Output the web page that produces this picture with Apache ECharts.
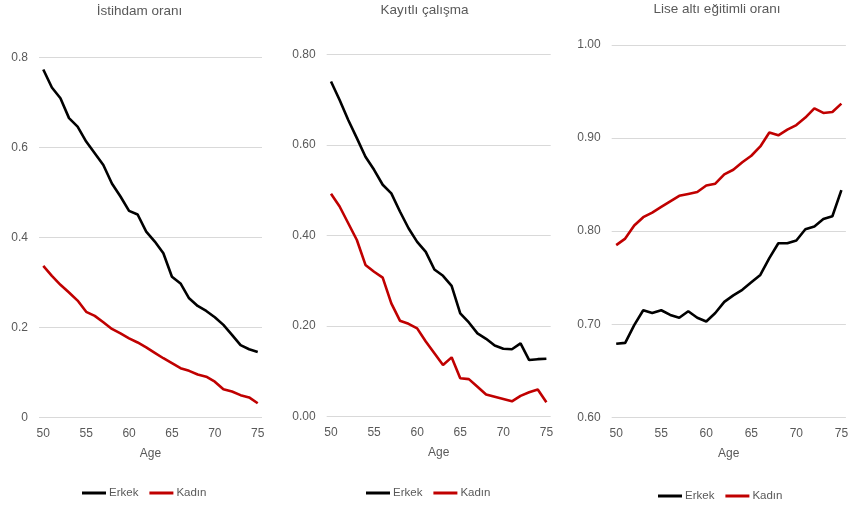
<!DOCTYPE html>
<html>
<head>
<meta charset="utf-8">
<script src="https://cdn.jsdelivr.net/npm/echarts@6/dist/echarts.min.js"></script>
<style>
html,body{margin:0;padding:0;background:#fff;}
#c{width:851px;height:508px;}
</style>
</head>
<body>
<div id="c"></div>
<script>
const ages = [50,51,52,53,54,55,56,57,58,59,60,61,62,63,64,65,66,67,68,69,70,71,72,73,74,75];
const titles = ['İstihdam oranı', 'Kayıtlı çalışma', 'Lise altı eğitimli oranı'];
const seriesNames = ['Erkek', 'Kadın'];
const xAxisName = 'Age';

const empMen = [0.773,0.733,0.709,0.665,0.646,0.613,0.587,0.561,0.520,0.491,0.459,0.451,0.413,0.391,0.365,0.313,0.298,0.265,0.248,0.237,0.223,0.206,0.184,0.161,0.152,0.146];
const empWomen = [0.337,0.315,0.295,0.278,0.260,0.235,0.226,0.212,0.197,0.187,0.176,0.167,0.156,0.144,0.132,0.121,0.110,0.104,0.096,0.091,0.080,0.063,0.058,0.050,0.045,0.032];

const regMen = [0.740,0.699,0.655,0.615,0.574,0.545,0.512,0.493,0.453,0.416,0.386,0.364,0.325,0.311,0.289,0.228,0.208,0.184,0.172,0.157,0.150,0.149,0.162,0.125,0.127,0.128];
const regWomen = [0.492,0.464,0.427,0.390,0.335,0.320,0.307,0.250,0.212,0.205,0.195,0.166,0.140,0.114,0.131,0.085,0.083,0.066,0.049,0.044,0.039,0.034,0.046,0.054,0.060,0.032];

const eduMen = [0.679,0.680,0.699,0.715,0.712,0.715,0.710,0.707,0.714,0.707,0.703,0.712,0.724,0.731,0.737,0.745,0.753,0.771,0.787,0.787,0.790,0.802,0.805,0.813,0.816,0.844];
const eduWomen = [0.785,0.792,0.806,0.815,0.820,0.826,0.832,0.838,0.840,0.842,0.849,0.851,0.861,0.866,0.874,0.881,0.891,0.906,0.903,0.909,0.914,0.922,0.932,0.927,0.928,0.937];

const yTicks = [
  {min:0, max:0.8, interval:0.2, fmt: v => (v===0?'0':v.toFixed(1))},
  {min:0, max:0.8, interval:0.2, fmt: v => v.toFixed(2)},
  {min:0.6, max:1.0, interval:0.1, fmt: v => v.toFixed(2)}
];

const FONT = "'Liberation Sans', sans-serif";
const GREY = '#595959';
const grids = [
  {left:39, top:57.3, width:223, height:360.4},
  {left:326.7, top:54.3, width:224, height:362.4},
  {left:611.7, top:45, width:237.3, height:372.3}
];
const titleCenters = [139.5, 424.5, 717];
const titleTops = [4, 3, 2];
const legendLefts = [82, 366, 658];
const legendTops = [487, 487, 490];
const dataSets = [[empMen, empWomen],[regMen, regWomen],[eduMen, eduWomen]];
const colors = ['#000000', '#c00000'];

const option = {
  animation:false,
  backgroundColor:'#ffffff',
  textStyle:{fontFamily:FONT},
  title: titles.map((t,i)=>({
    text:t, left:titleCenters[i], top:titleTops[i], textAlign:'center', padding:0,
    textStyle:{fontFamily:FONT, fontSize:13.5, fontWeight:'normal', color:GREY}
  })),
  grid: grids,
  legend: [0,1,2].map(i=>({
    data: seriesNames.map((n,k)=>({name: n + (i>0? '\u200B'.repeat(i):'')})),
    left: legendLefts[i], top: legendTops[i], padding:0,
    icon:'rect', itemWidth:24, itemHeight:3, itemGap:11,
    textStyle:{fontFamily:FONT, fontSize:11.5, color:GREY, padding:[0,0,0,-2]},
    formatter: n => n.replace(/\u200B/g,'')
  })),
  xAxis: [0,1,2].map(i=>({
    type:'category', gridIndex:i, data:ages, boundaryGap:true,
    name:xAxisName, nameLocation:'middle', nameGap:30,
    nameTextStyle:{fontFamily:FONT, fontSize:12, color:GREY},
    axisLine:{show:false}, axisTick:{show:false},
    axisLabel:{interval:4, margin:10, fontFamily:FONT, fontSize:12, color:GREY},
    splitLine:{show:false}
  })),
  yAxis: [0,1,2].map(i=>({
    type:'value', gridIndex:i, min:yTicks[i].min, max:yTicks[i].max, interval:yTicks[i].interval,
    axisLine:{show:false}, axisTick:{show:false},
    axisLabel:{margin:11, fontFamily:FONT, fontSize:12, color:GREY, formatter:yTicks[i].fmt},
    splitLine:{show:true, lineStyle:{color:'#d9d9d9', width:1}}
  })),
  series: []
};
for (let i=0;i<3;i++){
  for (let k=0;k<2;k++){
    option.series.push({
      type:'line', name: seriesNames[k] + (i>0? '\u200B'.repeat(i):''),
      xAxisIndex:i, yAxisIndex:i, data:dataSets[i][k],
      showSymbol:false, symbol:'none',
      lineStyle:{color:colors[k], width:2.6},
      itemStyle:{color:colors[k]}
    });
  }
}
const chart = echarts.init(document.getElementById('c'));
chart.setOption(option);
</script>
</body>
</html>
